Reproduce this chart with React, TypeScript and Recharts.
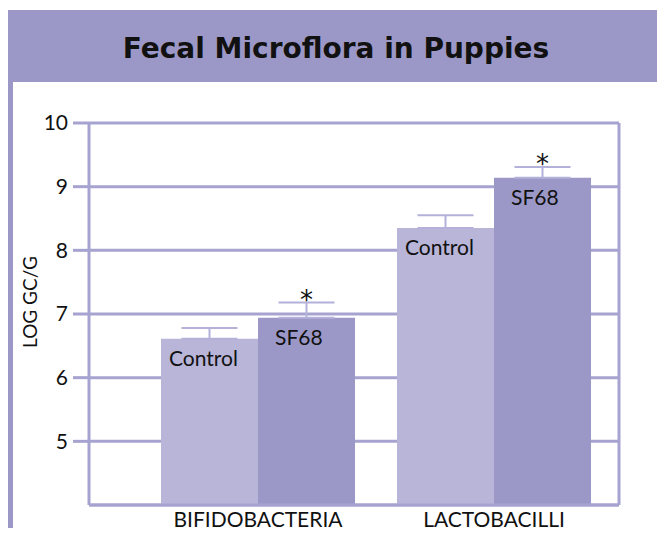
import React from "react";
import { BarChart, Bar, XAxis, YAxis, CartesianGrid, ErrorBar, LabelList } from "recharts";

const categories = ["BIFIDOBACTERIA", "LACTOBACILLI"];
const controlValues = [6.61, 8.35];
const sf68Values = [6.94, 9.14];
const controlErrors = [0.17, 0.2];
const sf68Errors = [0.24, 0.17];
const yTicks = [5, 6, 7, 8, 9, 10];
const yMin = 4;

const data = categories.map((name, i) => ({
  name,
  control: controlValues[i],
  sf68: sf68Values[i],
  controlErr: [0, controlErrors[i]],
  sf68Err: [0, sf68Errors[i]],
}));

const FONT = "Lato, 'Open Sans', sans-serif";
const LINE = "#a6a3d1";

const barName = (text: string, dx: number, dy: number) => (props: any) => {
  const { x, y } = props;
  return (
    <text x={x + dx} y={y + dy} fontSize={21} fontFamily={FONT} fill="#111">
      {text}
    </text>
  );
};

const Star = (props: any) => {
  const { x, y, width, height, value, index } = props;
  const perUnit = height / (value - yMin);
  const capY = y - sf68Errors[index] * perUnit;
  return (
    <text x={x + width / 2} y={capY + 6} textAnchor="middle" fontSize={26} fontFamily="'DejaVu Sans'" fill="#111">
      *
    </text>
  );
};

const CatTick = (props: any) => {
  const { x, y, payload } = props;
  return (
    <text x={x} y={y + 22} textAnchor="middle" fontSize={21} fontFamily={FONT} fill="#111">
      {payload.value}
    </text>
  );
};

export default function App() {
  return (
    <div style={{ position: "relative", width: 665, height: 536, background: "#fff", margin: -8 }}>
      <div style={{ position: "absolute", left: 7, top: 10, width: 658, height: 72, background: "#9b98c8" }} />
      <div style={{ position: "absolute", left: 8, top: 82, width: 5, height: 454, background: "#9b98c8" }} />
      <div
        style={{
          position: "absolute", left: 7, top: 10, width: 658, height: 72, lineHeight: "78px",
          textAlign: "center", fontFamily: "'DejaVu Sans'", fontWeight: 700, fontSize: 28, color: "#111",
        }}
      >
        Fecal Microflora in Puppies
      </div>
      <div
        style={{
          position: "absolute", left: -30, top: 290, width: 120, height: 24, lineHeight: "24px",
          textAlign: "center", transform: "rotate(-90deg)", fontFamily: FONT, fontSize: 19, color: "#111",
        }}
      >
        LOG GC/G
      </div>
      <div style={{ position: "absolute", left: 0, top: 0 }}>
        <BarChart
          width={665}
          height={536}
          data={data}
          margin={{ top: 123, right: 0, bottom: 0, left: 0 }}
          barCategoryGap={21}
          barGap={0}
        >
          <CartesianGrid yAxisId="left" vertical={false} stroke={LINE} strokeWidth={3} />
          <XAxis
            dataKey="name"
            height={31}
            padding={{ left: 51, right: 7 }}
            axisLine={{ stroke: LINE, strokeWidth: 3 }}
            tickLine={false}
            tickSize={0}
            tickMargin={0}
            tick={<CatTick />}
            interval={0}
          />
          <YAxis
            yAxisId="left"
            width={89}
            domain={[yMin, 10]}
            ticks={yTicks}
            allowDataOverflow
            axisLine={{ stroke: LINE, strokeWidth: 3 }}
            tickLine={{ stroke: LINE, strokeWidth: 3 }}
            tickSize={16}
            tickMargin={5}
            tick={{ fontSize: 21, fontFamily: FONT, fill: "#111" }}
          />
          <YAxis
            yAxisId="right"
            orientation="right"
            width={46}
            domain={[yMin, 10]}
            ticks={yTicks}
            axisLine={{ stroke: LINE, strokeWidth: 3 }}
            tickLine={{ stroke: LINE, strokeWidth: 3 }}
            tickSize={3}
            tick={false}
          />
          <Bar yAxisId="left" dataKey="control" fill="#b8b5d8" isAnimationActive={false}>
            <ErrorBar dataKey="controlErr" width={28} stroke="#b3b0d9" strokeWidth={2} direction="y" />
            <LabelList dataKey="control" content={barName("Control", 8, 27)} />
          </Bar>
          <Bar yAxisId="left" dataKey="sf68" fill="#9b98c8" isAnimationActive={false}>
            <ErrorBar dataKey="sf68Err" width={28} stroke="#b3b0d9" strokeWidth={2} direction="y" />
            <LabelList dataKey="sf68" content={barName("SF68", 17, 27)} />
            <LabelList dataKey="sf68" content={<Star />} />
          </Bar>
        </BarChart>
      </div>
    </div>
  );
}
